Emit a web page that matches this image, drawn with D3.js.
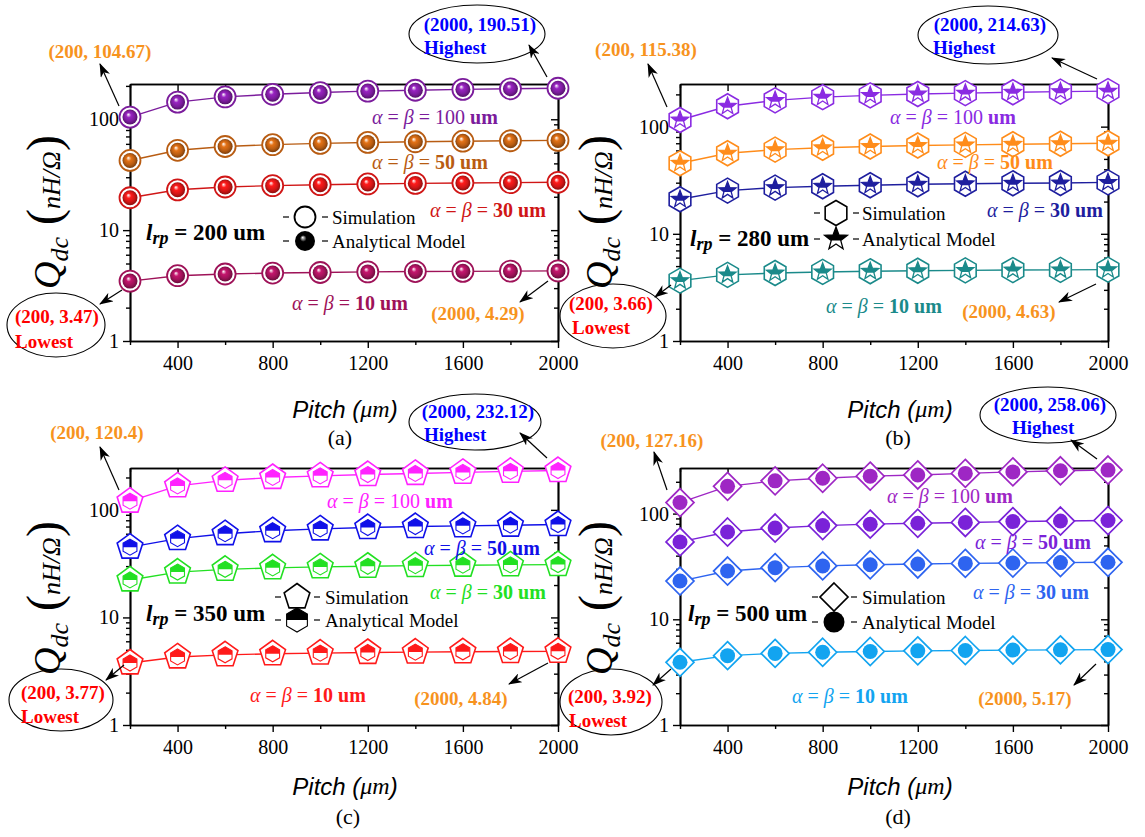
<!DOCTYPE html>
<html><head><meta charset="utf-8">
<script src="https://cdn.jsdelivr.net/npm/d3@7"></script>
<style>body{margin:0;background:#fff}svg{display:block}</style>
</head><body>
<svg id="c" width="1145" height="837"></svg>
<script>
// ---------------- DATA ----------------
const pitch = [200, 400, 600, 800, 1000, 1200, 1400, 1600, 1800, 2000];
const xTickMajor = [400, 800, 1200, 1600, 2000];
const xTickMinor = [200, 600, 1000, 1400, 1800];
const yTickMajor = [1, 10, 100];
const alphaBeta = ["100", "50", "30", "10"];

// panel (a) l_rp = 200 um
const a100 = [104.67, 142.9, 159.2, 168.0, 174.2, 179.4, 182.7, 186.0, 188.3, 190.51];
const a50  = [42.5, 52.5, 56.8, 59.0, 60.6, 61.8, 62.7, 63.4, 64.0, 64.5];
const a30  = [19.6, 23.1, 24.5, 25.2, 25.7, 26.1, 26.4, 26.6, 26.8, 27.0];
const a10  = [3.47, 3.88, 4.02, 4.10, 4.15, 4.20, 4.23, 4.25, 4.27, 4.29];
// panel (b) l_rp = 280 um
const b100 = [115.38, 155.0, 176.0, 188.4, 195.6, 201.8, 205.6, 209.4, 212.1, 214.63];
const b50  = [45.5, 56.5, 61.0, 63.5, 65.3, 66.7, 67.6, 68.5, 69.3, 70.0];
const b30  = [21.0, 25.3, 27.0, 27.8, 28.4, 29.0, 29.3, 29.6, 29.8, 30.2];
const b10  = [3.66, 4.14, 4.31, 4.41, 4.47, 4.52, 4.56, 4.59, 4.61, 4.63];
// panel (c) l_rp = 350 um
const c100 = [120.4, 167.0, 188.0, 200.0, 207.0, 213.0, 218.0, 223.0, 228.0, 232.12];
const c50  = [45.0, 54.0, 60.0, 64.0, 66.5, 68.5, 70.0, 71.0, 72.0, 73.0];
const c30  = [22.3, 26.4, 28.0, 28.9, 29.5, 29.9, 30.3, 30.6, 30.8, 31.0];
const c10  = [3.77, 4.29, 4.49, 4.59, 4.66, 4.72, 4.76, 4.79, 4.82, 4.84];
// panel (d) l_rp = 500 um
const d100 = [127.16, 181.0, 204.0, 216.0, 226.0, 232.0, 240.0, 248.0, 254.0, 258.06];
const d50  = [54.0, 67.0, 73.0, 77.0, 79.5, 81.0, 82.5, 84.0, 85.0, 86.0];
const d30  = [23.0, 28.6, 30.8, 32.0, 32.8, 33.4, 33.8, 34.1, 34.4, 34.6];
const d10  = [3.92, 4.53, 4.76, 4.88, 4.96, 5.03, 5.07, 5.11, 5.14, 5.17];

const panelLetters = ["(a)", "(b)", "(c)", "(d)"];
const lrpValues = ["200", "280", "350", "500"];
const highTexts = ["(2000, 190.51)", "(2000, 214.63)", "(2000, 232.12)", "(2000, 258.06)"];
const topLeftTexts = ["(200, 104.67)", "(200, 115.38)", "(200, 120.4)", "(200, 127.16)"];
const lowTexts = ["(200, 3.47)", "(200, 3.66)", "(200, 3.77)", "(200, 3.92)"];
const botRightTexts = ["(2000, 4.29)", "(2000, 4.63)", "(2000, 4.84)", "(2000, 5.17)"];

// ---------------- LAYOUT / STYLE ----------------
const SERIF = "'Liberation Serif','Times New Roman',serif";
const SANS = "'Liberation Sans',Arial,sans-serif";
const ORANGE = "#F7931E";

const panels = [
 { data:[a100,a50,a30,a10], colors:["#7B1C9C","#B85C12","#D01616","#9E1258"], marker:"sphere",
   x0:130, x1:558, y0:84, y1:341, ymax:208, ytitle:[60,212], xtitle:[345,409], letter:[340,437],
   tl:{x:100,y:51,ar:[119,106,100,64]},
   hi:{cx:477,cy:34,rx:68,ry:29,tx:480,ty:24,hx:424,hy:47,ar:[547,77,529,45]},
   lo:{cx:56,cy:325,rx:49,ry:32,tx:57,ty:316,hx:15,hy:341,ar:[122,290,100,304]},
   br:{x:478,y:313,ar:[548,281,520,302]},
   lrp:{x:146,y:232}, leg:{sx:305,tx:332,y1:217,y2:241},
   labels:[[435,117],[430,162],[488,210],[350,303]] },
 { data:[b100,b50,b30,b10], colors:["#8A2BE2","#FF8C1A","#1E1E9E","#1A8A8A"], marker:"hexstar",
   x0:680, x1:1108, y0:84, y1:341, ymax:250, ytitle:[612,212], xtitle:[900,409], letter:[898,437],
   tl:{x:646,y:49,ar:[667,107,648,64]},
   hi:{cx:988,cy:35,rx:70,ry:29,tx:990,ty:24,hx:933,hy:47,ar:[1097,79,1052,58]},
   lo:{cx:613,cy:316,rx:53,ry:32,tx:611,ty:303,hx:572,hy:327,ar:[671,285,655,297]},
   br:{x:1009,y:311,ar:[1096,284,1059,302]},
   lrp:{x:690,y:238}, leg:{sx:836,tx:862,y1:213,y2:239},
   labels:[[953,117],[995,162],[1045,210],[884,306]] },
 { data:[c100,c50,c30,c10], colors:["#FF22FF","#1010E8","#22E022","#FF1A1A"], marker:"penthex",
   x0:130, x1:558, y0:468, y1:725, ymax:245, ytitle:[60,598], xtitle:[345,786], letter:[348,816],
   tl:{x:97,y:432,ar:[119,490,100,447]},
   hi:{cx:475,cy:422,rx:66,ry:28,tx:478,ty:411,hx:424,hy:434,ar:[547,458,520,433]},
   lo:{cx:61,cy:700,rx:52,ry:31,tx:63,ty:692,hx:21,hy:716,ar:[124,665,106,680]},
   br:{x:461,y:698,ar:[548,663,509,684]},
   lrp:{x:146,y:613}, leg:{sx:297,tx:325,y1:597,y2:620},
   labels:[[390,501],[482,548],[488,592],[308,695]] },
 { data:[d100,d50,d30,d10], colors:["#9E27C4","#7A22D8","#2E64F0","#12A4F0"], marker:"diacirc",
   x0:680, x1:1108, y0:468, y1:725, ymax:270, ytitle:[612,598], xtitle:[900,786], letter:[898,816],
   tl:{x:652,y:440,ar:[667,490,654,452]},
   hi:{cx:1048,cy:415,rx:68,ry:28,tx:1050,ty:404,hx:1012,hy:427,ar:[1097,459,1071,440]},
   lo:{cx:611,cy:702,rx:51,ry:33,tx:610,ty:696,hx:569,hy:720,ar:[671,669,653,685]},
   br:{x:1025,y:698,ar:[1096,664,1074,685]},
   lrp:{x:688,y:613}, leg:{sx:834,tx:862,y1:597,y2:622},
   labels:[[950,496],[1033,542],[1031,592],[850,696]] }
];

// ---------------- DRAW ----------------
const svg = d3.select("#c");
const defs = svg.append("defs");
defs.append("marker").attr("id","arr").attr("viewBox","0 0 14 10").attr("refX",13).attr("refY",5)
  .attr("markerWidth",14).attr("markerHeight",10).attr("markerUnits","userSpaceOnUse").attr("orient","auto")
  .append("path").attr("d","M0,0 L14,5 L0,10 L4,5 Z").attr("fill","#000");
defs.append("clipPath").attr("id","clipTop").append("rect").attr("x",-20).attr("y",-20).attr("width",40).attr("height",20);
defs.append("clipPath").attr("id","clipStar").append("rect").attr("x",-20).attr("y",-20).attr("width",40).attr("height",21.5);

let gradN = 0;
function sphereGrad(color) {
  const id = "sg" + (gradN++);
  const g = defs.append("radialGradient").attr("id", id).attr("cx","50%").attr("cy","50%").attr("r","55%")
    .attr("fx","38%").attr("fy","32%");
  g.append("stop").attr("offset","0%").attr("stop-color","#ffffff");
  g.append("stop").attr("offset","30%").attr("stop-color", d3.color(color).brighter(0.6).formatHex());
  g.append("stop").attr("offset","65%").attr("stop-color", color);
  g.append("stop").attr("offset","100%").attr("stop-color", d3.color(color).darker(1.5).formatHex());
  return id;
}
function poly(n, r, rot) {
  const pts = [];
  for (let k = 0; k < n; k++) { const a = rot + k * 2 * Math.PI / n; pts.push([r*Math.cos(a), r*Math.sin(a)]); }
  return "M" + pts.map(p => p[0].toFixed(2)+","+p[1].toFixed(2)).join("L") + "Z";
}
function star(ro, ri) {
  const pts = [];
  for (let k = 0; k < 10; k++) { const r = k%2 ? ri : ro; const a = -Math.PI/2 + k*Math.PI/5; pts.push([r*Math.cos(a), r*Math.sin(a)]); }
  return "M" + pts.map(p => p[0].toFixed(2)+","+p[1].toFixed(2)).join("L") + "Z";
}
function drawMarker(g, type, color, which, grad) {
  if (type === "sphere") {
    if (which !== "an") g.append("circle").attr("r",10.5).attr("fill","#fff").attr("stroke",color).attr("stroke-width",1.8);
    if (which !== "sim") g.append("circle").attr("r",which==="an"?10:7.5).attr("fill",`url(#${grad})`);
  } else if (type === "hexstar") {
    if (which !== "an") g.append("path").attr("d",poly(6,12.5,-Math.PI/2)).attr("fill","#fff").attr("stroke",color).attr("stroke-width",1.6);
    if (which !== "sim") {
      const r = which==="an"?12:9;
      g.append("path").attr("d",star(r,r*0.42)).attr("fill","#fff").attr("stroke",color).attr("stroke-width",1.3);
      g.append("path").attr("d",star(r,r*0.42)).attr("fill",color).attr("clip-path","url(#clipStar)");
    }
  } else if (type === "penthex") {
    if (which !== "an") g.append("path").attr("d",poly(5,13.5,-Math.PI/2)).attr("fill","#fff").attr("stroke",color).attr("stroke-width",1.6);
    if (which !== "sim") {
      const r = which==="an"?12:8;
      g.append("path").attr("d",poly(6,r,-Math.PI/2)).attr("fill","#fff").attr("stroke",color).attr("stroke-width",1.1);
      g.append("path").attr("d",poly(6,r,-Math.PI/2)).attr("fill",color).attr("clip-path","url(#clipTop)");
    }
  } else if (type === "diacirc") {
    if (which !== "an") g.append("path").attr("d",poly(4,14,-Math.PI/2)).attr("fill","#fff").attr("stroke",color).attr("stroke-width",1.7);
    if (which !== "sim") g.append("circle").attr("r",which==="an"?10.5:7.5).attr("fill",color);
  }
}
function arrow(ar) {
  svg.append("line").attr("x1",ar[0]).attr("y1",ar[1]).attr("x2",ar[2]).attr("y2",ar[3])
    .attr("stroke","#000").attr("stroke-width",1.2).attr("marker-end","url(#arr)");
}
function txt(x, y, s, opts) {
  return svg.append("text").attr("x",x).attr("y",y).attr("dominant-baseline","central")
    .attr("font-family",SERIF).attr("font-size",opts.size||19).attr("font-weight",opts.bold?"bold":"normal")
    .attr("fill",opts.color||"#000").attr("text-anchor",opts.anchor||"middle").text(s);
}

panels.forEach((p, pi) => {
  const x = d3.scaleLinear().domain([200, 2000]).range([p.x0, p.x1]);
  const y = d3.scaleLog().domain([1, p.ymax]).range([p.y1, p.y0]);
  const g = svg.append("g");
  const minorY = [];
  [1,10,100].forEach(dec => { for (let k=2;k<=9;k++) { const v=dec*k; if (v < p.ymax) minorY.push(v); } });

  const styleAxis = sel => {
    sel.select(".domain").attr("stroke","#000").attr("stroke-width",1.7);
    sel.selectAll(".tick line").attr("stroke","#000").attr("stroke-width",1.4);
    sel.selectAll(".tick text").attr("font-family",SERIF).attr("font-size",20).attr("fill","#000");
  };
  const fmt = d3.format("d");
  // bottom
  g.append("g").attr("transform",`translate(0,${p.y1})`)
    .call(d3.axisBottom(x).tickValues(xTickMinor).tickSize(4).tickSizeOuter(0).tickFormat("")).call(styleAxis);
  g.append("g").attr("transform",`translate(0,${p.y1})`)
    .call(d3.axisBottom(x).tickValues(xTickMajor).tickSize(7).tickSizeOuter(0).tickPadding(8).tickFormat(fmt)).call(styleAxis);
  // top (ticks inward)
  g.append("g").attr("transform",`translate(0,${p.y0})`)
    .call(d3.axisBottom(x).tickValues(xTickMinor).tickSize(4).tickSizeOuter(0).tickFormat("")).call(styleAxis);
  g.append("g").attr("transform",`translate(0,${p.y0})`)
    .call(d3.axisBottom(x).tickValues(xTickMajor).tickSize(7).tickSizeOuter(0).tickFormat("")).call(styleAxis);
  // left
  g.append("g").attr("transform",`translate(${p.x0},0)`)
    .call(d3.axisLeft(y).tickValues(minorY).tickSize(4).tickSizeOuter(0).tickFormat("")).call(styleAxis);
  g.append("g").attr("transform",`translate(${p.x0},0)`)
    .call(d3.axisLeft(y).tickValues(yTickMajor).tickSize(7).tickSizeOuter(0).tickPadding(4).tickFormat(fmt)).call(styleAxis);
  // right (ticks inward)
  g.append("g").attr("transform",`translate(${p.x1},0)`)
    .call(d3.axisLeft(y).tickValues(minorY).tickSize(4).tickSizeOuter(0).tickFormat("")).call(styleAxis);
  g.append("g").attr("transform",`translate(${p.x1},0)`)
    .call(d3.axisLeft(y).tickValues(yTickMajor).tickSize(7).tickSizeOuter(0).tickFormat("")).call(styleAxis);

  // series lines and markers
  const line = d3.line().x((d,i) => x(pitch[i])).y(d => y(d));
  p.data.forEach((vals, si) => {
    g.append("path").attr("d", line(vals)).attr("fill","none").attr("stroke",p.colors[si]).attr("stroke-width",1.4);
  });
  p.data.forEach((vals, si) => {
    const grad = p.marker === "sphere" ? sphereGrad(p.colors[si]) : null;
    vals.forEach((v, i) => {
      const mg = g.append("g").attr("transform",`translate(${x(pitch[i])},${y(v)})`);
      drawMarker(mg, p.marker, p.colors[si], "both", grad);
    });
  });

  // series labels
  p.data.forEach((vals, si) => {
    const [lx, ly] = p.labels[si];
    const t = svg.append("text").attr("x",lx).attr("y",ly).attr("dominant-baseline","central").attr("text-anchor","middle")
      .attr("font-family",SERIF).attr("font-size",20).attr("fill",p.colors[si]);
    t.append("tspan").attr("font-style","italic").text("α");
    t.append("tspan").text(" = ");
    t.append("tspan").attr("font-style","italic").text("β");
    t.append("tspan").text(" = ");
    t.append("tspan").attr("font-weight", si === 0 ? "normal" : "bold").text(alphaBeta[si]);
    t.append("tspan").attr("font-weight","bold").text(" um");
  });

  // y title
  const yt = svg.append("text").attr("transform",`translate(${p.ytitle[0]},${p.ytitle[1]}) rotate(-90)`)
    .attr("text-anchor","middle").attr("font-family",SERIF).attr("fill","#000");
  yt.append("tspan").attr("font-style","italic").attr("font-size",38).text("Q");
  yt.append("tspan").attr("font-style","italic").attr("font-size",26).attr("dy",8).text("dc");
  yt.append("tspan").attr("font-size",48).attr("dy",-8).text(" (");
  yt.append("tspan").attr("font-style","italic").attr("font-size",26).text("nH/Ω");
  yt.append("tspan").attr("font-size",48).text(")");

  // x title
  const xt = svg.append("text").attr("x",p.xtitle[0]).attr("y",p.xtitle[1]).attr("dominant-baseline","central")
    .attr("text-anchor","middle").attr("font-size",24).attr("fill","#000");
  xt.append("tspan").attr("font-family",SANS).attr("font-style","italic").text("Pitch (");
  xt.append("tspan").attr("font-family",SERIF).attr("font-style","italic").text("μm");
  xt.append("tspan").attr("font-family",SANS).attr("font-style","italic").text(")");
  txt(p.letter[0], p.letter[1], panelLetters[pi], {size:22});

  // l_rp label
  const lt = svg.append("text").attr("x",p.lrp.x).attr("y",p.lrp.y).attr("dominant-baseline","central")
    .attr("font-family",SERIF).attr("font-size",23).attr("font-weight","bold").attr("fill","#000");
  lt.append("tspan").attr("font-style","italic").text("l");
  lt.append("tspan").attr("font-style","italic").attr("font-size",18).attr("dy",6).text("rp");
  lt.append("tspan").attr("dy",-6).text(" = " + lrpValues[pi] + " um");

  // legend
  const L = p.leg;
  [[L.y1,"sim","Simulation"],[L.y2,"an","Analytical Model"]].forEach(([ly, which, label]) => {
    svg.append("line").attr("x1",L.sx-22).attr("x2",L.sx-16).attr("y1",ly).attr("y2",ly).attr("stroke","#000").attr("stroke-width",1.2);
    svg.append("line").attr("x1",L.sx+17).attr("x2",L.sx+23).attr("y1",ly).attr("y2",ly).attr("stroke","#000").attr("stroke-width",1.2);
    const mg = svg.append("g").attr("transform",`translate(${L.sx},${ly})`);
    const grad = p.marker === "sphere" ? sphereGrad("#000000") : null;
    drawMarker(mg, p.marker, "#000", which, grad);
    txt(L.tx, ly, label, {size:19, anchor:"start"});
  });

  // annotations
  txt(p.tl.x, p.tl.y, topLeftTexts[pi], {bold:true, color:ORANGE});
  arrow(p.tl.ar);
  svg.append("ellipse").attr("cx",p.hi.cx).attr("cy",p.hi.cy).attr("rx",p.hi.rx).attr("ry",p.hi.ry)
    .attr("fill","none").attr("stroke","#000").attr("stroke-width",1.1);
  txt(p.hi.tx, p.hi.ty, highTexts[pi], {bold:true, color:"#0000FF"});
  txt(p.hi.hx, p.hi.hy, "Highest", {bold:true, color:"#0000FF", anchor:"start"});
  arrow(p.hi.ar);
  svg.append("ellipse").attr("cx",p.lo.cx).attr("cy",p.lo.cy).attr("rx",p.lo.rx).attr("ry",p.lo.ry)
    .attr("fill","none").attr("stroke","#000").attr("stroke-width",1.1);
  txt(p.lo.tx, p.lo.ty, lowTexts[pi], {bold:true, color:"#FF0000"});
  txt(p.lo.hx, p.lo.hy, "Lowest", {bold:true, color:"#FF0000", anchor:"start"});
  arrow(p.lo.ar);
  txt(p.br.x, p.br.y, botRightTexts[pi], {bold:true, color:ORANGE});
  arrow(p.br.ar);
});
</script>
</body></html>
